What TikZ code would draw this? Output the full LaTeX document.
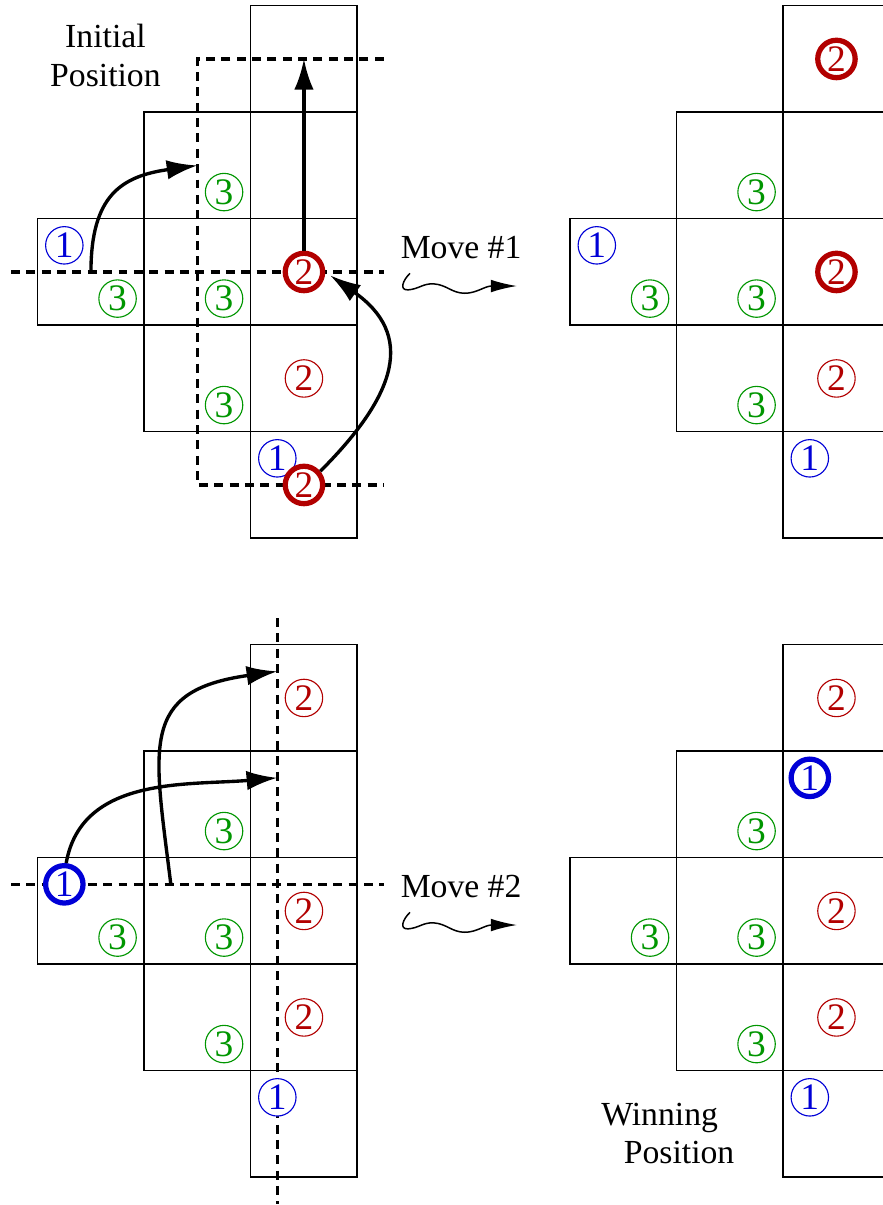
\documentclass[tikz,border=0pt]{standalone}
\usepackage{fontspec}
\setmainfont{Liberation Serif}
\newfontfamily\figfont{Liberation Serif}
\usetikzlibrary{arrows.meta}
\definecolor{pone}{RGB}{0,0,215}
\definecolor{ptwo}{RGB}{178,0,0}
\definecolor{pthree}{RGB}{0,150,0}
\begin{document}
\begin{tikzpicture}[>={Latex[length=8.2pt,width=5.2pt]},
    cell/.style={draw,line width=0.4pt,minimum size=1cm,inner sep=0pt,outer sep=0pt},
    piece/.style={circle,fill=white,line width=0.3pt,minimum size=10pt,inner sep=0pt,font=\figfont\fontsize{10}{10}\selectfont},
    pieceone/.style={piece,draw=pone,text=pone},
    piecetwo/.style={piece,draw=ptwo,text=ptwo},
    piecethree/.style={piece,draw=pthree,text=pthree},
    heavy/.style={line width=1.4pt},
    guide/.style={line width=0.9pt,dash pattern=on 2.4pt off 1.7pt},
    movearrow/.style={->,line width=0.9pt},
    wiggle/.style={-{Latex[length=7pt,width=3.4pt]},line width=0.4pt},
    caption/.style={font=\figfont\fontsize{9}{10.2}\selectfont,inner sep=0pt}]
  \useasboundingbox (-0.354,0.0535) rectangle (7.937,-11.261);

  \foreach \b/\dx/\dy in {a/0/0,b/5/0,c/0/-6,d/5/-6}{
    \begin{scope}[shift={(\dx,\dy)}]
      \foreach \c/\r in {1/2,2/1,2/2,2/3,3/0,3/1,3/2,3/3,3/4}
        \node[cell] (\b\c\r) at (\c-0.5,-\r-0.5) {};
    \end{scope}
  }

  \draw[guide] (-0.25,-2.5) -- (3.25,-2.5);
  \draw[guide] (3.25,-0.5) -- (1.5,-0.5) -- (1.5,-4.5) -- (3.25,-4.5);
  \draw[guide] (-0.25,-8.25) -- (3.25,-8.25);
  \draw[guide] (2.25,-5.75) -- (2.25,-11.25);

  \node[caption,align=center,anchor=north] (initial) at (0.636,-0.169) {Initial\\Position};
  \node[caption,align=left,anchor=north west] (winning) at (5.286,-10.294) {Winning\\\hspace*{6pt}Position};

  \foreach \n/\dy in {1/0,2/-6}{
    \begin{scope}[yshift=\dy cm]
      \node[caption,anchor=base west] (mv\n) at (3.402,-2.377) {Move \#\n};
      \draw[wiggle] (3.496,-2.513) .. controls (3.43,-2.575) and (3.39,-2.675) .. (3.48,-2.668)
        .. controls (3.58,-2.66) and (3.62,-2.605) .. (3.72,-2.612)
        .. controls (3.84,-2.62) and (3.89,-2.70) .. (4.01,-2.70)
        .. controls (4.12,-2.70) and (4.20,-2.632) .. (4.50,-2.632);
    \end{scope}
  }

  \node[pieceone] (a1a) at ([shift={(0.25,-0.25)}]a12.north west) {1};
  \node[piecethree] (a3a) at ([shift={(-0.25,0.25)}]a12.south east) {3};
  \node[piecethree] (a3b) at ([shift={(-0.25,0.25)}]a21.south east) {3};
  \node[piecethree] (a3c) at ([shift={(-0.25,0.25)}]a22.south east) {3};
  \node[piecethree] (a3d) at ([shift={(-0.25,0.25)}]a23.south east) {3};
  \node[piecetwo,heavy] (a2x) at (a32) {2};
  \node[piecetwo] (a2a) at (a33) {2};
  \node[pieceone] (a1b) at ([shift={(0.25,-0.25)}]a34.north west) {1};
  \node[piecetwo,heavy] (a2y) at (a34) {2};

  \node[piecetwo,heavy] (b2x) at (b30) {2};
  \node[piecethree] (b3b) at ([shift={(-0.25,0.25)}]b21.south east) {3};
  \node[pieceone] (b1a) at ([shift={(0.25,-0.25)}]b12.north west) {1};
  \node[piecethree] (b3a) at ([shift={(-0.25,0.25)}]b12.south east) {3};
  \node[piecethree] (b3c) at ([shift={(-0.25,0.25)}]b22.south east) {3};
  \node[piecetwo,heavy] (b2y) at (b32) {2};
  \node[piecethree] (b3d) at ([shift={(-0.25,0.25)}]b23.south east) {3};
  \node[piecetwo] (b2a) at (b33) {2};
  \node[pieceone] (b1b) at ([shift={(0.25,-0.25)}]b34.north west) {1};

  \node[pieceone,heavy] (c1x) at ([shift={(0.25,-0.25)}]c12.north west) {1};
  \node[piecethree] (c3a) at ([shift={(-0.25,0.25)}]c12.south east) {3};
  \node[piecethree] (c3b) at ([shift={(-0.25,0.25)}]c21.south east) {3};
  \node[piecethree] (c3c) at ([shift={(-0.25,0.25)}]c22.south east) {3};
  \node[piecethree] (c3d) at ([shift={(-0.25,0.25)}]c23.south east) {3};
  \node[piecetwo] (c2a) at (c30) {2};
  \node[piecetwo] (c2b) at (c32) {2};
  \node[piecetwo] (c2c) at (c33) {2};
  \node[pieceone] (c1a) at ([shift={(0.25,-0.25)}]c34.north west) {1};

  \node[piecetwo] (d2a) at (d30) {2};
  \node[pieceone,heavy] (d1x) at ([shift={(0.25,-0.25)}]d31.north west) {1};
  \node[piecethree] (d3b) at ([shift={(-0.25,0.25)}]d21.south east) {3};
  \node[piecethree] (d3a) at ([shift={(-0.25,0.25)}]d12.south east) {3};
  \node[piecethree] (d3c) at ([shift={(-0.25,0.25)}]d22.south east) {3};
  \node[piecetwo] (d2b) at (d32) {2};
  \node[piecethree] (d3d) at ([shift={(-0.25,0.25)}]d23.south east) {3};
  \node[piecetwo] (d2c) at (d33) {2};
  \node[pieceone] (d1a) at ([shift={(0.25,-0.25)}]d34.north west) {1};

  \coordinate (c-from) at ([shift={(0.25,-0.25)}]c22.north west);
  \coordinate (c-aim1) at ([shift={(0.25,-0.25)}]c31.north west);
  \coordinate (c-aim2) at ([shift={(0.25,-0.25)}]c30.north west);

  \draw[movearrow] (a12.center) to[out=90,in=188,looseness=1.3] (a21.center);
  \draw[movearrow] (a2x) -- (a30.center);
  \draw[movearrow,shorten >=1.6pt] (a2y.40) to[out=45,in=-35,looseness=1.4] (a2x.east);
  \draw[movearrow] (c1x.85) to[out=80,in=185] (c-aim1);
  \draw[movearrow] (c-from) to[out=97,in=188,looseness=1.5] (c-aim2);
\end{tikzpicture}
\end{document}
